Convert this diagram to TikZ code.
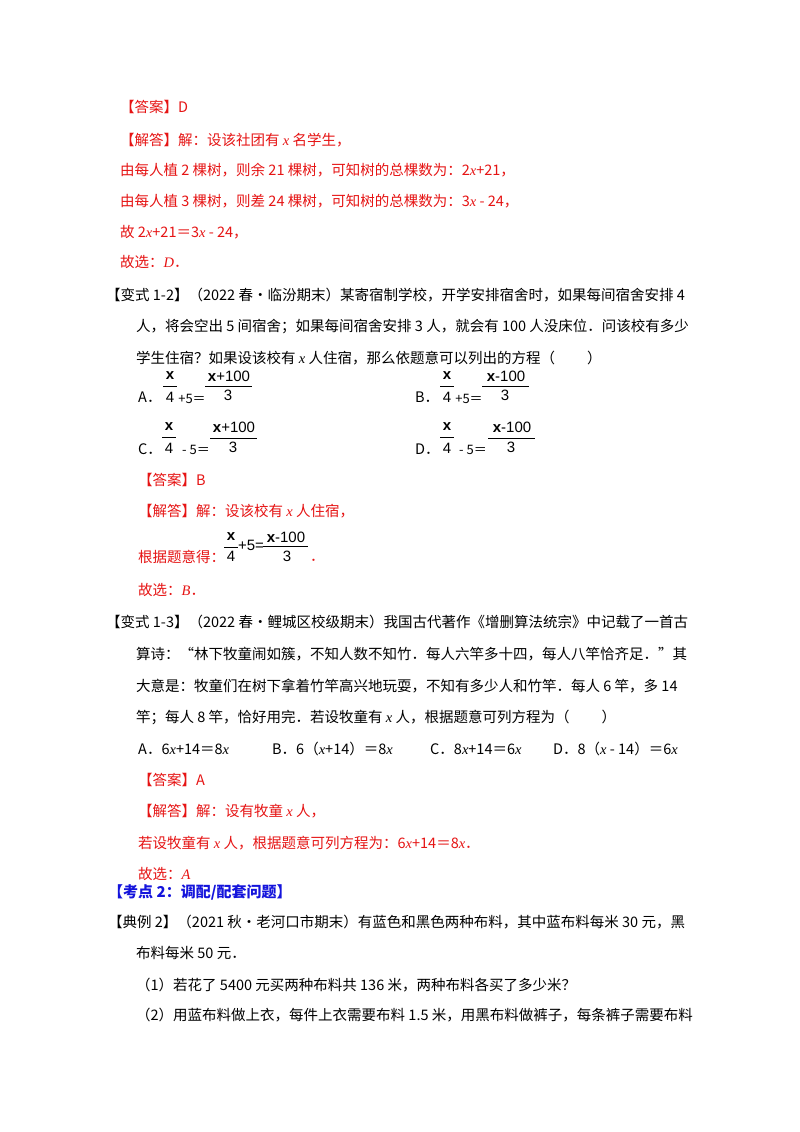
\documentclass[tikz,border=0pt]{standalone}
\usepackage{fontspec}
\setmainfont{Liberation Serif}
\newfontfamily\cjk{Noto Sans CJK SC}
\newfontfamily\img{Liberation Sans}
\definecolor{ansred}{RGB}{230,20,20}
\definecolor{kblue}{RGB}{20,20,220}
\begin{document}
\begin{tikzpicture}[x=1pt,y=-1pt,
  t/.style={anchor=west,inner sep=0pt,font=\fontsize{14.5}{16}\cjk},
  r/.style={t,text=ansred},
  fr/.style={inner sep=0pt,font=\fontsize{15}{16}\img},
  eq/.style={inner sep=0pt,font=\fontsize{13}{14}\cjk}]
\useasboundingbox (0,0) rectangle (800,1132);
\fill[white] (0,0) rectangle (800,1132);
\newcommand\X{\textit{\fontfamily{}\rmfamily x}}
\node[r] (l1) at (120,107) {【答案】D};
\node[r] (l2) at (120,140) {【解答】解：设该社团有 \X{} 名学生，};
\node[r] (l3) at (120,170) {由每人植 2 棵树，则余 21 棵树，可知树的总棵数为：2\X+21，};
\node[r] (l4) at (120,201) {由每人植 3 棵树，则差 24 棵树，可知树的总棵数为：3\X{} - 24，};
\node[r] (l5) at (120,232) {故 2\X+21＝3\X{} - 24，};
\node[r] (l6) at (120,262) {故选：\textit{\rmfamily D}．};
\node[t] (v1) at (106,295) {【变式 1-2】（2022 春•临汾期末）某寄宿制学校，开学安排宿舍时，如果每间宿舍安排 4};
\node[t] (v2) at (136,327) {人，将会空出 5 间宿舍；如果每间宿舍安排 3 人，就会有 100 人没床位．问该校有多少};
\node[t] (v3) at (136,358) {学生住宿？如果设该校有 \X{} 人住宿，那么依题意可以列出的方程（\hspace{2.2em}）};
% option A
\node[t] (oA) at (138,397) {A．};
\node[fr] (aN) at (170,376) {\textbf{x}};
\node[fr] (aD) at (170,397) {4};
\draw (163,386) -- (177,386);
\node[eq] (aM) at (192,399) {+5＝};
\node[fr] (aN2) at (229,376) {\textbf{x}+100};
\node[fr] (aD2) at (228,395) {3};
\draw (205,386) -- (252,386);
% option B
\node[t] (oB) at (415,397) {B．};
\node[fr] (bN) at (447,376) {\textbf{x}};
\node[fr] (bD) at (447,397) {4};
\draw (440,386) -- (454,386);
\node[eq] (bM) at (469,399) {+5＝};
\node[fr] (bN2) at (506,376) {\textbf{x}-100};
\node[fr] (bD2) at (505,395) {3};
\draw (482,386) -- (529,386);
% option C
\node[t] (oC) at (138,449) {C．};
\node[fr] (cN) at (169,427) {\textbf{x}};
\node[fr] (cD) at (169,448) {4};
\draw (162,437) -- (176,437);
\node[eq] (cM) at (196,450) {- 5＝};
\node[fr] (cN2) at (234,427) {\textbf{x}+100};
\node[fr] (cD2) at (233,447) {3};
\draw (210,438) -- (257,438);
% option D
\node[t] (oD) at (415,449) {D．};
\node[fr] (dN) at (447,427) {\textbf{x}};
\node[fr] (dD) at (447,448) {4};
\draw (440,437) -- (454,437);
\node[eq] (dM) at (473,450) {- 5＝};
\node[fr] (dN2) at (512,427) {\textbf{x}-100};
\node[fr] (dD2) at (511,447) {3};
\draw (488,438) -- (535,438);
\node[r] (b1) at (138,480) {【答案】B};
\node[r] (b2) at (138,511) {【解答】解：设该校有 \X{} 人住宿，};
\node[r] (b3) at (138,557) {根据题意得：};
\node[fr] (eN) at (231,537) {\textbf{x}};
\node[fr] (eD) at (231,556) {4};
\draw (224,547) -- (238,547);
\node[fr] (eM) at (251,545) {+5=};
\node[fr] (eN2) at (286,537) {\textbf{x}-100};
\node[fr] (eD2) at (287,556) {3};
\draw (263,546) -- (308,546);
\node[r] (b4) at (310,560) {．};
\node[r] (b5) at (138,590) {故选：\textit{\rmfamily B}．};
\node[t] (w1) at (106,622) {【变式 1-3】（2022 春•鲤城区校级期末）我国古代著作《增删算法统宗》中记载了一首古};
\node[t] (w2) at (136,654) {算诗：“林下牧童闹如簇，不知人数不知竹．每人六竿多十四，每人八竿恰齐足．”其};
\node[t] (w3) at (136,686) {大意是：牧童们在树下拿着竹竿高兴地玩耍，不知有多少人和竹竿．每人 6 竿，多 14};
\node[t] (w4) at (136,717) {竿；每人 8 竿，恰好用完．若设牧童有 \X{} 人，根据题意可列方程为（\hspace{2.2em}）};
\node[t] (wA) at (138,749) {A．6\X+14＝8\X};
\node[t] (wB) at (272,749) {B．6（\X+14）＝8\X};
\node[t] (wC) at (430,749) {C．8\X+14＝6\X};
\node[t] (wD) at (553,749) {D．8（\X{} - 14）＝6\X};
\node[r] (c1) at (138,780) {【答案】A};
\node[r] (c2) at (138,811) {【解答】解：设有牧童 \X{} 人，};
\node[r] (c3) at (138,843) {若设牧童有 \X{} 人，根据题意可列方程为：6\X+14＝8\X．};
\node[r] (c4) at (138,874) {故选：\textit{\rmfamily A}};
\node[t,text=kblue,font=\fontsize{15}{16}\cjk\bfseries] (k) at (108,892) {【考点 2：调配/配套问题】};
\node[t] (d1) at (108,922) {【典例 2】（2021 秋•老河口市期末）有蓝色和黑色两种布料，其中蓝布料每米 30 元，黑};
\node[t] (d2) at (136,953) {布料每米 50 元．};
\node[t] (d3) at (136,985) {（1）若花了 5400 元买两种布料共 136 米，两种布料各买了多少米？};
\node[t] (d4) at (136,1015) {（2）用蓝布料做上衣，每件上衣需要布料 1.5 米，用黑布料做裤子，每条裤子需要布料};
\end{tikzpicture}
\end{document}
